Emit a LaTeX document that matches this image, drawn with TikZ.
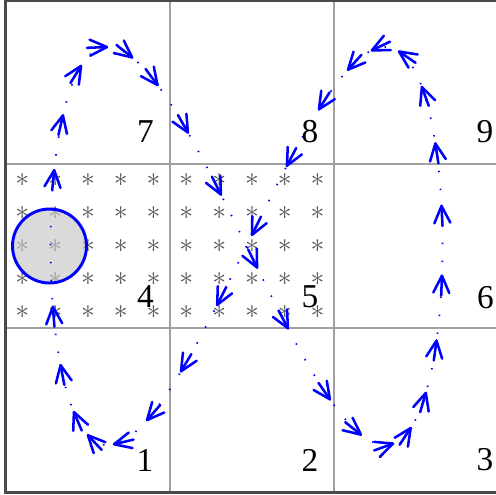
\documentclass[tikz,border=0pt]{standalone}
\usepackage{fontspec}
\setmainfont{Liberation Serif}
\definecolor{gridgray}{HTML}{A0A0A0}
\definecolor{framegray}{HTML}{4A4A4A}
\definecolor{stargray}{HTML}{555555}
\definecolor{discfill}{HTML}{C6C6C6}
\begin{document}
\begin{tikzpicture}[x=0.75pt,y=-0.75pt,
  gridline/.style={draw=gridgray, line width=1.1pt},
  frameline/.style={draw=framegray, line width=2.2pt},
  num/.style={font=\fontsize{25}{25}\selectfont, inner sep=0pt, text=black},
  starmark/.style={font=\fontsize{22}{22}\selectfont, inner sep=0pt, text=stargray},
  disc/.style={circle, draw=blue, line width=2.2pt, fill=discfill, fill opacity=0.65, inner sep=0pt, minimum size=55.5pt},
  trail/.style={draw=blue, line width=1.3pt, dash pattern=on 1.1pt off 12.4pt},
  vec/.style={draw=blue, line width=1.9pt, line cap=round, line join=round}]
\useasboundingbox (0,0) rectangle (496,494);
% grid
\begin{scope}
\clip (0,0) rectangle (496,494);
\draw[gridline] (170,1) -- (170,492.5);
\draw[gridline] (334,1) -- (334,492.5);
\draw[gridline] (5.5,164) -- (520,164);
\draw[gridline] (5.5,328) -- (520,328);
\draw[frameline] (5.5,1) rectangle (520,492.5);
\end{scope}
% asterisks
\foreach \cx/\cn in {88/4, 252/5}{
  \foreach \i in {0,...,4}{
    \foreach \j in {0,...,4}{
      \node[starmark] (s\cn\i\j) at ({\cx+32.8*(\i-2)},{246+32.8*(\j-2)}) {$\ast$};
    }
  }
}
% disc
\node[disc] (disc) at (49.5,246) {};
% trajectory
\draw[trail] plot[domain=-180:180, samples=721] ({246.5+196*sin(\x)},{246+199*sin(2*\x)});
\foreach \t in {-27,-35.7,-45.4,-57.6,-69.5,-78.8,-98.9,-108.4,-118.3,-126,-137.5,-149.5,-160.5,-171.4,178.4,168.1,158.3,148.8,140.2,128.9,116.5,105.5,95.8,85.7,75.8,66.2,56.9,48.4,35.7,25.2,12.2,3.1,-7.5,-17.4}{
  \pgfmathsetmacro\px{246.5+196*sin(\t)}
  \pgfmathsetmacro\py{246+199*sin(2*\t)}
  \pgfmathsetmacro\vx{196*cos(\t)}
  \pgfmathsetmacro\vy{398*cos(2*\t)}
  \pgfmathsetmacro\vn{veclen(\vx,\vy)}
  \pgfmathsetmacro\ux{\vx/\vn}
  \pgfmathsetmacro\uy{\vy/\vn}
  \draw[vec] ({\px-20*\ux},{\py-20*\uy}) -- (\px,\py);
  \draw[vec] ({\px-17*\ux-8*\uy},{\py-17*\uy+8*\ux}) -- (\px,\py) -- ({\px-17*\ux+8*\uy},{\py-17*\uy-8*\ux});
}
% cell numbers
\node[num] (n7) at (145.5,131.5) {7};
\node[num] (n8) at (310,131.5) {8};
\node[num] (n9) at (485,131.5) {9};
\node[num] (n4) at (145.5,297) {4};
\node[num] (n5) at (310,297) {5};
\node[num] (n6) at (485.5,298) {6};
\node[num] (n1) at (145,460) {1};
\node[num] (n2) at (310,460) {2};
\node[num] (n3) at (485,460) {3};
\end{tikzpicture}
\end{document}
